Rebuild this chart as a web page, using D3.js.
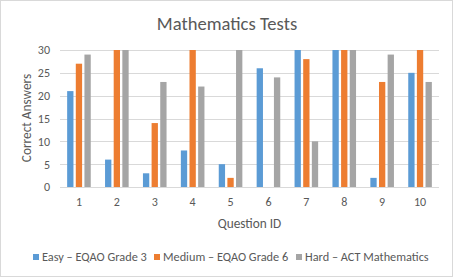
<!DOCTYPE html>
<html>
<head>
<meta charset="utf-8">
<script src="https://cdn.jsdelivr.net/npm/d3@7"></script>
<style>
  body { margin: 0; background: #fff; }
  svg { display: block; font-family: Carlito, "Open Sans", "Liberation Sans", sans-serif; }
</style>
</head>
<body>
<svg width="454" height="278"></svg>
<script>
var questions = ['1', '2', '3', '4', '5', '6', '7', '8', '9', '10'];
var seriesNames = ['Easy – EQAO Grade 3', 'Medium – EQAO Grade 6', 'Hard – ACT Mathematics'];
var easy = [21, 6, 3, 8, 5, 26, 30, 30, 2, 25];
var medium = [27, 30, 14, 30, 2, 0, 28, 30, 23, 30];
var hard = [29, 30, 23, 22, 30, 24, 10, 30, 29, 23];
var yTicks = [0, 5, 10, 15, 20, 25, 30];
var colors = ['#5b9bd5', '#ed7d31', '#a5a5a5'];

var series = [easy, medium, hard];
var svg = d3.select('svg');
var textColor = '#595959';

svg.append('rect')
  .attr('x', 0.5).attr('y', 0.5)
  .attr('width', 452).attr('height', 276)
  .attr('fill', '#fff').attr('stroke', '#d9d9d9');

var plotLeft = 60, plotRight = 439, plotTop = 50, plotBottom = 187;

var x = d3.scaleBand().domain(questions).range([plotLeft, plotRight]);
var inner = d3.scaleBand().domain([0, 1, 2]).range([-11.8, 11.8]).paddingInner(0.27);
var y = d3.scaleLinear().domain([0, 30]).range([plotBottom, plotTop]);

// gridlines
svg.append('g').selectAll('line').data(yTicks).enter().append('line')
  .attr('x1', plotLeft).attr('x2', plotRight)
  .attr('y1', function (d) { return Math.round(y(d)) + 0.5; })
  .attr('y2', function (d) { return Math.round(y(d)) + 0.5; })
  .attr('stroke', '#d9d9d9');

// bars
series.forEach(function (vals, si) {
  svg.append('g').selectAll('rect').data(vals).enter().append('rect')
    .attr('x', function (d, i) { return x(questions[i]) + x.bandwidth() / 2 + inner(si); })
    .attr('width', inner.bandwidth())
    .attr('y', function (d) { return y(d); })
    .attr('height', function (d) { return plotBottom - y(d); })
    .attr('fill', colors[si]);
});

// y axis
var yAxis = svg.append('g').attr('transform', 'translate(' + plotLeft + ',0)')
  .call(d3.axisLeft(y).tickValues(yTicks).tickSize(0).tickPadding(10));
yAxis.select('.domain').remove();
yAxis.attr('font-family', null);
yAxis.selectAll('text').attr('fill', textColor).style('font-size', '12px');

// x axis
var xAxis = svg.append('g').attr('transform', 'translate(0,' + plotBottom + ')')
  .call(d3.axisBottom(x).tickSize(0).tickPadding(10));
xAxis.select('.domain').remove();
xAxis.attr('font-family', null);
xAxis.selectAll('text').attr('fill', textColor).style('font-size', '12px');

// titles
svg.append('text').attr('x', 227).attr('y', 30)
  .attr('text-anchor', 'middle').attr('fill', textColor)
  .style('font-size', '18.6px').text('Mathematics Tests');

svg.append('text').attr('x', (plotLeft + plotRight) / 2).attr('y', 228)
  .attr('text-anchor', 'middle').attr('fill', textColor)
  .style('font-size', '13.3px').text('Question ID');

svg.append('text')
  .attr('transform', 'translate(31,118) rotate(-90)')
  .attr('text-anchor', 'middle').attr('fill', textColor)
  .style('font-size', '13.3px').text('Correct Answers');

// legend
var legendX = [33, 154, 296];
var legend = svg.append('g').selectAll('g').data(seriesNames).enter().append('g')
  .attr('transform', function (d, i) { return 'translate(' + legendX[i] + ',257)'; });
legend.append('rect').attr('x', 0).attr('y', -3).attr('width', 6).attr('height', 6)
  .attr('fill', function (d, i) { return colors[i]; });
legend.append('text').attr('x', 9).attr('y', 4)
  .attr('fill', textColor).style('font-size', '12.3px')
  .text(function (d) { return d; });
</script>
</body>
</html>
